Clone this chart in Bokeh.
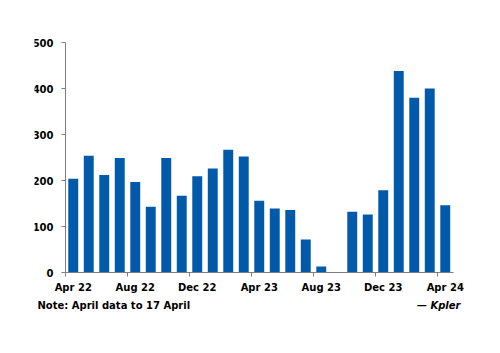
from bokeh.plotting import figure
from bokeh.models import FixedTicker, ColumnDataSource, Label
from bokeh.embed import file_html
from bokeh.resources import INLINE

months = ["Apr 22", "May 22", "Jun 22", "Jul 22", "Aug 22", "Sep 22", "Oct 22", "Nov 22",
          "Dec 22", "Jan 23", "Feb 23", "Mar 23", "Apr 23", "May 23", "Jun 23", "Jul 23",
          "Aug 23", "Sep 23", "Oct 23", "Nov 23", "Dec 23", "Jan 24", "Feb 24", "Mar 24", "Apr 24"]
values = [204, 254, 212, 249, 197, 143, 249, 167, 209, 226, 267, 252,
          156, 139, 136, 72, 13, 0, 132, 126, 179, 438, 380, 400, 146]
tick_labels = ["Apr 22", "Aug 22", "Dec 22", "Apr 23", "Aug 23", "Dec 23", "Apr 24"]
y_ticks = [0, 100, 200, 300, 400, 500]
note_text = "Note: April data to 17 April"
source_text = "\u2014 Kpler"

FONT = "DejaVu Sans"
AXIS_COLOR = "#7f7f7f"
n = len(months)

x_centers = [i + 0.5 for i in range(n)]
src = ColumnDataSource(dict(x=x_centers, top=values, month=months))

# frame is enlarged so that the footnote texts lie inside it; axes sit at 0
p = figure(width=500, height=353, output_backend="svg", toolbar_location=None,
           x_range=(-2.0, n + 17.5 / 15.5), y_range=(-100, 500 + 12 / 0.46),
           frame_width=436, frame_height=288,
           min_border_left=34, min_border_right=30, min_border_top=30, min_border_bottom=35)
p.outline_line_color = None
p.grid.grid_line_color = None
p.background_fill_color = "white"
p.border_fill_color = "white"

p.vbar(x="x", top="top", width=0.64, source=src, fill_color="#0059A9", line_color=None)

label_pos = [months.index(m) + 0.5 for m in tick_labels]
p.xaxis.fixed_location = 0
p.xaxis.bounds = (0, n)
p.xaxis.ticker = FixedTicker(ticks=label_pos, minor_ticks=[months.index(m) for m in tick_labels])
p.xaxis.major_label_overrides = {pos: lab for pos, lab in zip(label_pos, tick_labels)}
p.xaxis.major_tick_line_color = None
p.xaxis.minor_tick_line_color = AXIS_COLOR
p.xaxis.minor_tick_out = 4
p.xaxis.minor_tick_in = 0
p.xaxis.major_label_standoff = 3

p.yaxis.fixed_location = 0
p.yaxis.bounds = (0, 500)
p.yaxis.ticker = FixedTicker(ticks=y_ticks)
p.yaxis.major_tick_out = 4
p.yaxis.major_tick_in = 0
p.yaxis.minor_tick_line_color = None
p.yaxis.major_tick_line_color = AXIS_COLOR
p.yaxis.major_label_standoff = 8

for ax in (p.xaxis, p.yaxis):
    ax.axis_line_color = AXIS_COLOR
    ax.axis_line_width = 1
    ax.major_label_text_font = FONT
    ax.major_label_text_font_style = "bold"
    ax.major_label_text_font_size = "10px"
    ax.major_label_text_color = "black"

note = Label(x=3, y=13, x_units="screen", y_units="screen", text=note_text,
             text_font=FONT, text_font_style="bold", text_font_size="10px",
             text_color="black", text_baseline="middle", text_align="left")
srcl = Label(x=426, y=13, x_units="screen", y_units="screen", text=source_text,
             text_font=FONT, text_font_style="bold italic", text_font_size="10px",
             text_color="black", text_baseline="middle", text_align="right")
p.add_layout(note)
p.add_layout(srcl)

open("out.html", "w").write(file_html(p, INLINE))
